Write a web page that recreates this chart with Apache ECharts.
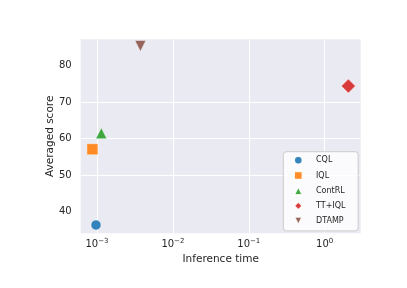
<!DOCTYPE html>
<html>
<head>
<meta charset="utf-8">
<script src="https://cdn.jsdelivr.net/npm/echarts@6/dist/echarts.min.js"></script>
<style>
html,body{margin:0;padding:0;background:#fff;}
#chart{width:407px;height:288px;}
</style>
</head>
<body>
<div id="chart"></div>
<script>
const categories = ['CQL', 'IQL', 'ContRL', 'TT+IQL', 'DTAMP'];
const inferenceTime = [9.7e-4, 8.7e-4, 1.14e-3, 2.05, 3.73e-3];
const avgScore = [36.35, 57.1, 61.5, 74.4, 85.4];
const colors = ['#1f77b4', '#ff7f0e', '#2ca02c', '#d62728', '#8c564b'];
const symbols = ['circle', 'rect', 'triangle', 'diamond', 'path://M0,0 L10,0 L5,10 Z'];
const symbolSizes = [10, 11, 11, 14, 11];
const yTicks = [40, 50, 60, 70, 80];

const FONT = 'DejaVu Sans';
const TXT = '#262626';

const chart = echarts.init(document.getElementById('chart'), null, {renderer: 'canvas'});

const series = categories.map((name, i) => ({
  name: name,
  type: 'scatter',
  data: [[inferenceTime[i], avgScore[i]]],
  symbol: symbols[i],
  symbolSize: symbolSizes[i],
  itemStyle: {color: colors[i], opacity: 0.9, borderColor: '#ffffff', borderWidth: 0.5},
  emphasis: {disabled: true},
  animation: false
}));

function supLabel(v) {
  const e = Math.round(Math.log10(v));
  const s = e < 0 ? '\u2212' + (-e) : String(e);
  return '{b|10}{s|' + s + '}';
}

chart.setOption({
  animation: false,
  textStyle: {fontFamily: FONT},
  grid: {
    left: 80.7, right: 46.3, top: 39.3, bottom: 54.7,
    show: true, backgroundColor: '#EAEAF2', borderWidth: 0
  },
  xAxis: {
    type: 'log',
    logBase: 10,
    min: 6.1e-4,
    max: 2.98,
    name: 'Inference time',
    nameLocation: 'middle',
    nameGap: 19,
    nameTextStyle: {fontFamily: FONT, fontSize: 10.5, color: TXT},
    axisLine: {show: false},
    axisTick: {show: false},
    splitLine: {show: true, showMinLine: false, showMaxLine: false, lineStyle: {color: '#ffffff', width: 1}},
    axisLabel: {
      showMinLabel: false, showMaxLabel: false,
      margin: 4,
      formatter: supLabel,
      rich: {
        b: {fontFamily: FONT, fontSize: 10, color: TXT, verticalAlign: 'bottom'},
        s: {fontFamily: FONT, fontSize: 7, color: TXT, verticalAlign: 'bottom', padding: [0, 0, 5, 0]}
      }
    }
  },
  yAxis: {
    type: 'value',
    min: 34.1,
    max: 87.2,
    name: 'Averaged score',
    nameLocation: 'middle',
    nameGap: 25,
    nameMoveOverlap: false,
    nameTextStyle: {fontFamily: FONT, fontSize: 10.5, color: TXT},
    axisLine: {show: false},
    axisTick: {show: false, customValues: yTicks},
    splitLine: {show: true, showMinLine: false, showMaxLine: false, lineStyle: {color: '#ffffff', width: 1}},
    axisLabel: {
      margin: 9,
      fontFamily: FONT, fontSize: 10, color: TXT,
      customValues: yTicks
    }
  },
  legend: {
    orient: 'vertical',
    left: 283.3,
    top: 151.7,
    padding: [3.3, 12.7, 4.6, 9.75],
    itemWidth: 8.5,
    itemHeight: 8.5,
    itemGap: 4.7,
    selectedMode: false,
    backgroundColor: 'rgba(255,255,255,0.8)',
    borderColor: '#cccccc',
    borderWidth: 1,
    borderRadius: 3,
    textStyle: {fontFamily: FONT, fontSize: 8, color: TXT, lineHeight: 10, padding: [0, 0, 0, 8.45]},
    data: categories
  },
  series: series
});
</script>
</body>
</html>
